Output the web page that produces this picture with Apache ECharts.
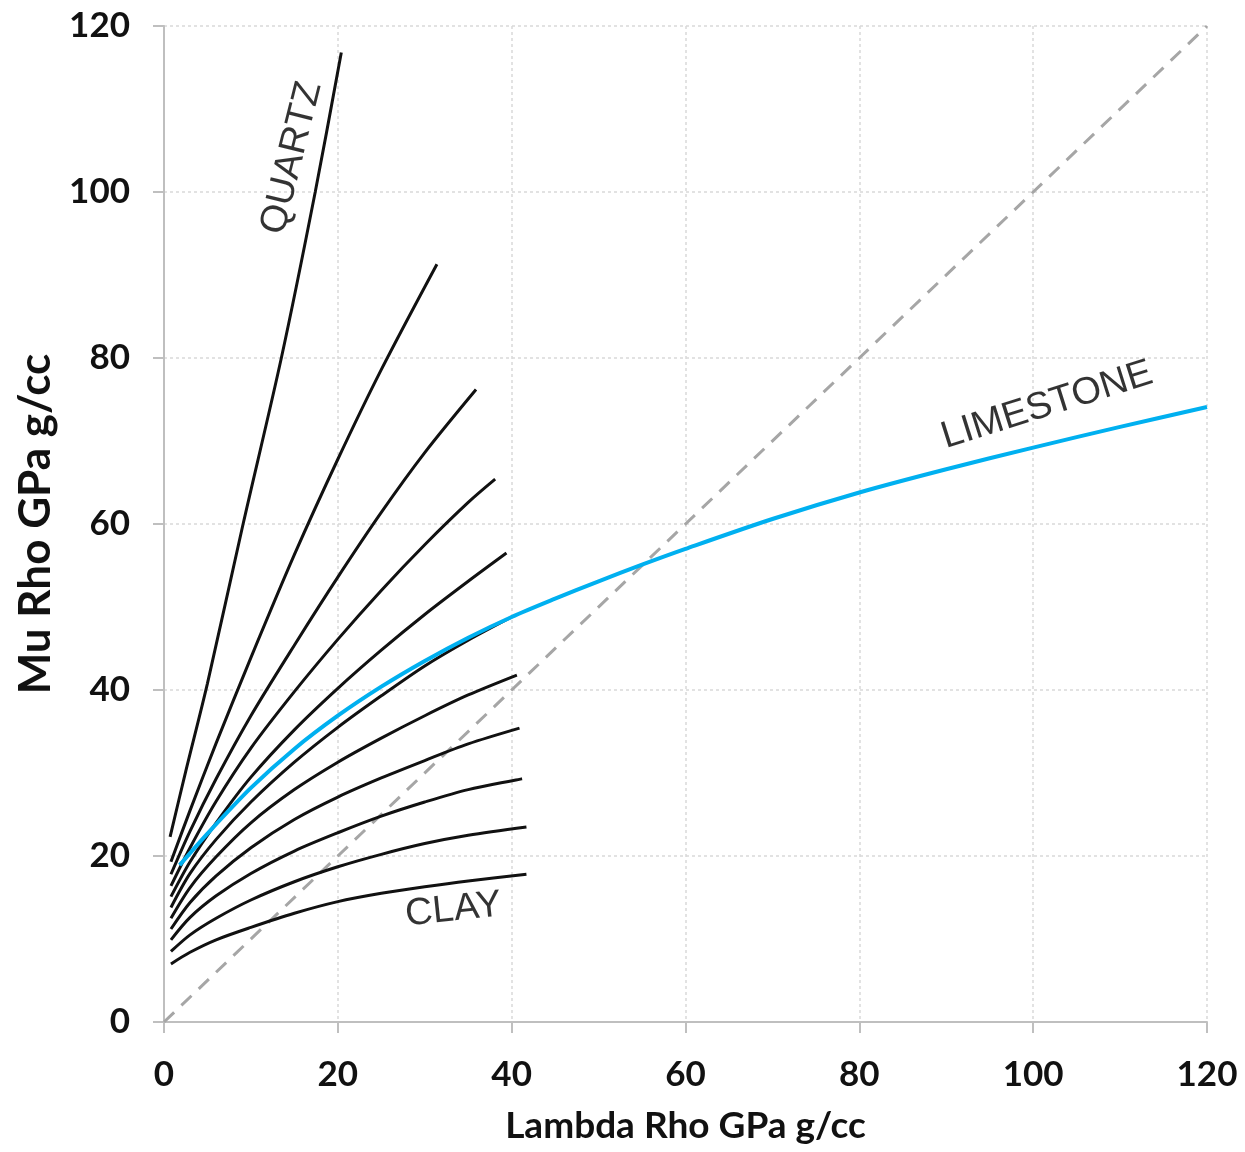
<!DOCTYPE html>
<html>
<head>
<meta charset="utf-8">
<script src="https://cdn.jsdelivr.net/npm/echarts@6/dist/echarts.min.js"></script>
<style>
html,body{margin:0;padding:0;background:#fff;}
#chart{width:1245px;height:1152px;}
</style>
</head>
<body>
<div id="chart"></div>
<script>
// Tick values
const xTicks = [0, 20, 40, 60, 80, 100, 120];
const yTicks = [0, 20, 40, 60, 80, 100, 120];

// Mixing curves, [Lambda Rho, Mu Rho]
const quartz = [[0.7,22.3],[2.5,30.2],[5,40.8],[9.1,60],[13.5,80],[17.4,100],[20.4,116.8]];
const curve2 = [[0.8,19.3],[3,25.5],[6,33.6],[10,43.9],[15,56.3],[20,67.8],[25,78.6],[31.4,91.3]];
const curve3 = [[0.8,17.8],[3,23.0],[6,29.3],[10,36.9],[15,45.4],[20,53.6],[25,61.4],[30,68.6],[35.9,76.2]];
const curve4 = [[0.8,16.4],[3,21.0],[6,26.6],[10,33.0],[15,39.8],[20,46.1],[25,52.0],[30,57.5],[35,62.6],[38.1,65.4]];
const curve5 = [[0.8,15.1],[3,19.3],[6,24.0],[10,29.5],[15,35.2],[20,40.2],[25,44.8],[30,49.1],[35,53.1],[39.4,56.5]];
const curve6 = [[0.8,13.8],[3,17.9],[6,22.0],[10,26.5],[15,31.3],[20,35.5],[25,39.3],[30,42.9],[35,46.0],[40,48.8]];
const curve7 = [[0.8,12.5],[3,16.2],[6,19.9],[10,24.0],[15,28.0],[20,31.3],[25,34.2],[30,36.9],[35,39.4],[40.6,41.8]];
const curve8 = [[0.8,11.2],[3,14.4],[6,17.6],[10,21.0],[15,24.4],[20,27.1],[25,29.4],[30,31.5],[35,33.5],[40.9,35.4]];
const curve9 = [[0.8,9.9],[3,12.6],[6,15.2],[10,17.9],[15,20.6],[20,22.8],[25,24.8],[30,26.5],[35,28.0],[41.2,29.3]];
const curve10 = [[0.8,8.5],[3,10.5],[6,12.5],[10,14.7],[15,16.9],[20,18.7],[25,20.2],[30,21.5],[35,22.5],[41.7,23.5]];
const clay = [[0.8,7.0],[3,8.4],[6,9.9],[10,11.4],[15,13.1],[20,14.5],[25,15.5],[30,16.3],[35,17.0],[41.7,17.8]];
const limestone = [[1.8,18.9],[5,22.7],[10,28.2],[15,32.9],[20,36.9],[25,40.4],[30,43.5],[35,46.3],[40,48.8],[45,51.0],[50,53.1],[55,55.1],[60,57.0],[70,60.6],[80,63.8],[90,66.6],[100,69.2],[110,71.7],[120,74.1]];
const diagonal = [[0,0],[120,120]];

// Curve annotations
const labelTexts = ['QUARTZ', 'LIMESTONE', 'CLAY'];
const labelPoints = [[14.7,104.1],[101.6,74.3],[33.3,13.5]];
const labelAngles = [76, 17.5, 6];

const blackCurves = [quartz, curve2, curve3, curve4, curve5, curve6, curve7, curve8, curve9, curve10, clay];

const chart = echarts.init(document.getElementById('chart'), null, {renderer:'canvas'});

const series = [];
series.push({
  type:'line', data: diagonal, symbol:'none', silent:true,
  lineStyle:{color:'#a6a6a6', width:3, type:[14,10]}, z:2
});
blackCurves.forEach(function(c){
  series.push({type:'line', data:c, symbol:'none', smooth:0.3, silent:true,
    lineStyle:{color:'#111111', width:3}, z:3});
});
series.push({type:'line', data:limestone, symbol:'none', smooth:0.3, silent:true,
  lineStyle:{color:'#00b0f0', width:4}, z:4});
labelTexts.forEach(function(t, i){
  series.push({type:'scatter', data:[labelPoints[i]], symbolSize:0, silent:true, z:5,
    label:{show:true, position:'inside', formatter:t, rotate:labelAngles[i],
      fontFamily:'Liberation Sans', fontSize:38, color:'#000'}});
});

const axisCommon = {
  type:'value', min:0, max:120, interval:20,
  axisLine:{show:true, onZero:false, lineStyle:{color:'#bfbfbf', width:2}},
  axisTick:{show:true, length:11, lineStyle:{color:'#bfbfbf', width:2}},
  splitLine:{show:true, lineStyle:{color:'#d9d9d9', width:1.5, type:[3,3]}},
  nameLocation:'middle'
};

chart.setOption({
  animation:false,
  backgroundColor:'#ffffff',
  grid:{left:164, right:38, top:26, bottom:130, containLabel:false},
  xAxis: Object.assign({}, axisCommon, {
    name:'Lambda Rho GPa g/cc', nameGap:86,
    nameTextStyle:{fontFamily:'Lato', fontWeight:'bold', fontSize:37, color:'#111'},
    axisLabel:{fontFamily:'Lato', fontWeight:'bold', fontSize:35, color:'#111', margin:35,
      formatter:function(v){ return xTicks.indexOf(v) >= 0 ? String(v) : ''; }}
  }),
  yAxis: Object.assign({}, axisCommon, {
    name:'Mu Rho GPa g/cc', nameGap:104,
    nameTextStyle:{fontFamily:'Lato', fontWeight:'bold', fontSize:44, color:'#111'},
    axisLabel:{fontFamily:'Lato', fontWeight:'bold', fontSize:35, color:'#111', margin:34,
      formatter:function(v){ return yTicks.indexOf(v) >= 0 ? String(v) : ''; }}
  }),
  series: series
});
</script>
</body>
</html>
